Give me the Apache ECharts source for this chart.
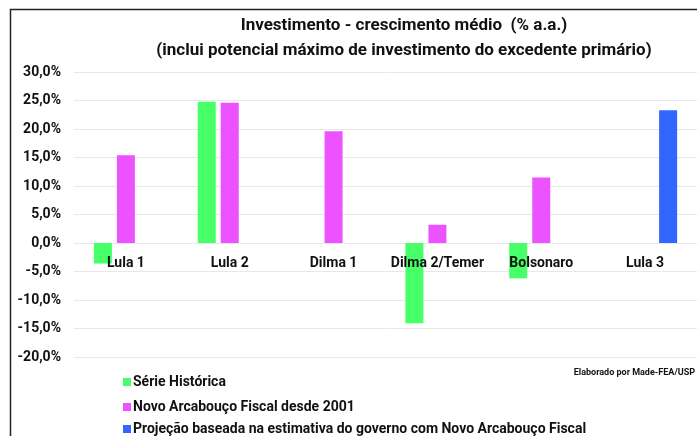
<!DOCTYPE html>
<html>
<head>
<meta charset="utf-8">
<script src="https://cdn.jsdelivr.net/npm/echarts@6/dist/echarts.min.js"></script>
<style>html,body{margin:0;padding:0;background:#fff}#c{width:697px;height:436px}</style>
</head>
<body>
<div id="c"></div>
<script>
var categories = ['Lula 1', 'Lula 2', 'Dilma 1', 'Dilma 2/Temer', 'Bolsonaro', 'Lula 3'];
var serieHistorica = [-3.6, 24.8, null, -14.1, -6.2, null];
var novoArcabouco = [15.4, 24.6, 19.6, 3.2, 11.5, null];
var projecao = [null, null, null, null, null, 23.3];
var seriesNames = ['Série Histórica', 'Novo Arcabouço Fiscal desde 2001', 'Projeção baseada na estimativa do governo com Novo Arcabouço Fiscal'];
var titleLines = ['Investimento - crescimento médio  (% a.a.)', '(inclui potencial máximo de investimento do excedente primário)'];
var note = 'Elaborado por Made-FEA/USP';

var FONT = 'Roboto';
var chart = echarts.init(document.getElementById('c'), null, {renderer: 'canvas'});
function bar(name, data, color) {
  return {
    name: name, type: 'bar', data: data, barWidth: 18, barGap: '28%',
    itemStyle: {color: color}
  };
}
var legendTops = [375, 400, 422];
var legends = seriesNames.map(function (n, i) {
  return {
    orient: 'vertical', left: 123, top: legendTops[i], itemWidth: 8, itemHeight: 8,
    icon: 'rect', padding: 0,
    textStyle: {fontSize: 14, fontWeight: 'bold', color: '#111', fontFamily: FONT, padding: [0, 0, 0, -3]},
    data: [n]
  };
});
chart.setOption({
  animation: false,
  textStyle: {fontFamily: FONT},
  title: {
    text: titleLines.join('\n'),
    left: 399, top: 8, textAlign: 'center',
    textStyle: {fontSize: 17, fontWeight: 'bold', color: '#111', lineHeight: 25, fontFamily: FONT}
  },
  grid: {left: 74, right: 0, top: 72, bottom: 79},
  legend: legends,
  xAxis: {
    type: 'category', data: categories,
    axisLine: {show: false, onZero: false},
    axisTick: {show: false},
    axisLabel: {fontSize: 14, fontWeight: 'bold', color: '#111', margin: -101, fontFamily: FONT, interval: 0},
    z: 3
  },
  yAxis: {
    type: 'value', min: -20, max: 30, interval: 5,
    axisLine: {show: false}, axisTick: {show: false},
    splitLine: {lineStyle: {color: '#e8e8e8', width: 1}},
    axisLabel: {
      fontSize: 14, fontWeight: 'bold', color: '#111', margin: 13, fontFamily: FONT,
      formatter: function (v) { return v.toFixed(1).replace('.', ',') + '%'; }
    }
  },
  series: [
    bar(seriesNames[0], serieHistorica, '#47ff66'),
    bar(seriesNames[1], novoArcabouco, '#ec52ff'),
    bar(seriesNames[2], projecao, '#3366ff')
  ],
  graphic: [
    {type: 'polyline', shape: {points: [[10.5, 440], [10.5, 9.5], [700, 9.5]]},
     style: {stroke: '#222', lineWidth: 1.5, fill: null}},
    {type: 'text', right: 2, top: 368,
     style: {text: note, fontSize: 9, fontWeight: 'bold', fill: '#111', fontFamily: FONT}}
  ]
});
</script>
</body>
</html>
